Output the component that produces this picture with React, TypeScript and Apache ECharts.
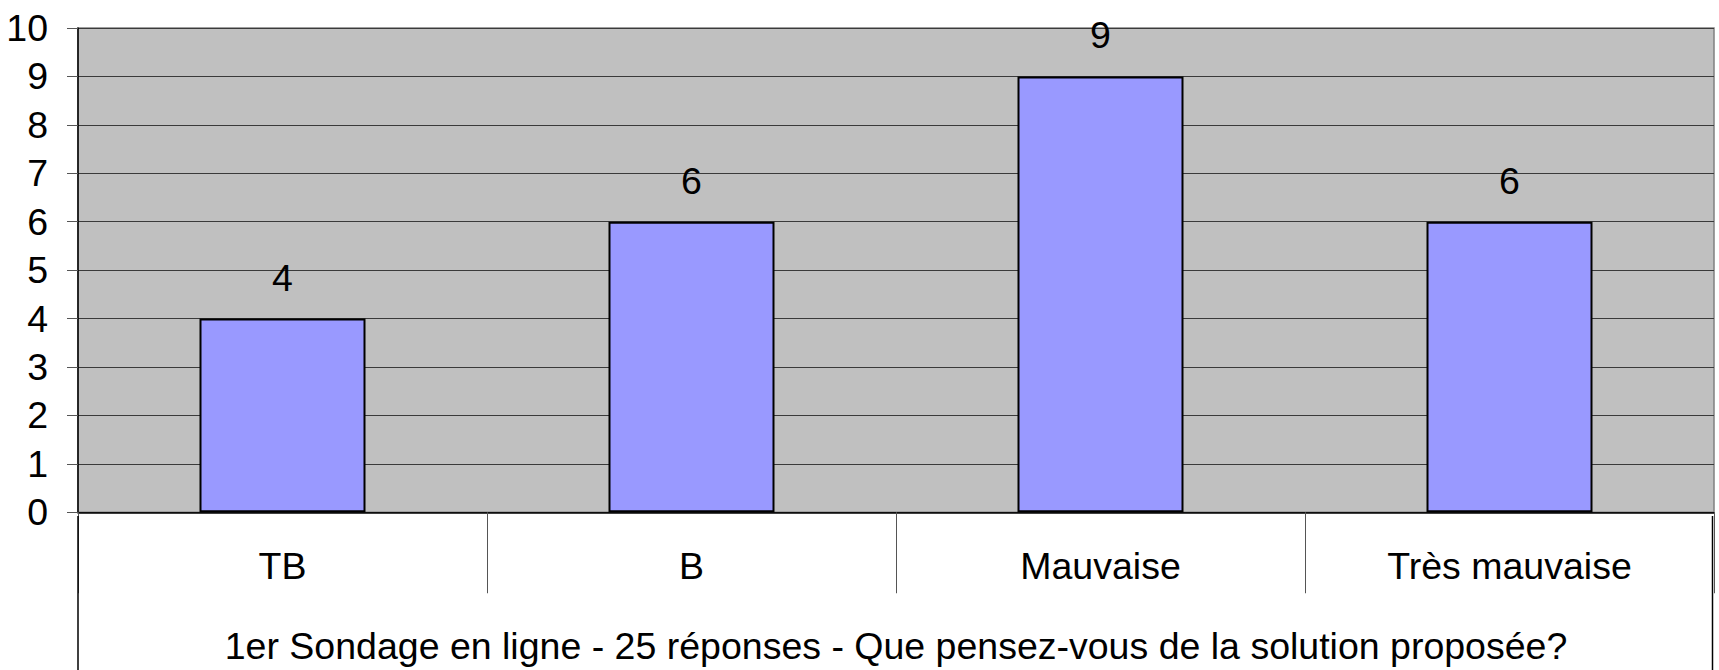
import React, { useEffect, useRef } from "react";
import * as echarts from "echarts";

const categories = ["TB", "B", "Mauvaise", "Très mauvaise"];
const values = [4, 6, 9, 6];
const axisTitle = "1er Sondage en ligne - 25 réponses - Que pensez-vous de la solution proposée?";
const yMin = 0;
const yMax = 10;
const yInterval = 1;

const FONT = "'Liberation Sans', Arial, sans-serif";
const FS = 37.5;

export default function App() {
  const ref = useRef<HTMLDivElement>(null);
  useEffect(() => {
    if (!ref.current) return;
    const chart = echarts.init(ref.current, null, { renderer: "svg" });
    const gridLeft = 78;
    const gridTop = 28;
    const gridRight = 5;
    const gridBottom = 154;
    const W = 1719;
    const H = 670;
    chart.setOption({
      animation: false,
      textStyle: { fontFamily: FONT },
      grid: {
        left: gridLeft,
        top: gridTop,
        right: gridRight,
        bottom: gridBottom,
        show: true,
        backgroundColor: "#c0c0c0",
        borderColor: "#808080",
        borderWidth: 1.5,
      },
      xAxis: {
        type: "category",
        data: categories,
        boundaryGap: true,
        axisLine: { show: true, lineStyle: { color: "#000", width: 1.5 } },
        axisTick: { show: true, interval: 0, length: 81, lineStyle: { color: "#555", width: 1 } },
        axisLabel: {
          interval: 0,
          fontSize: FS,
          lineHeight: FS,
          color: "#000",
          fontFamily: FONT,
          margin: 35,
        },
        name: axisTitle,
        nameLocation: "middle",
        nameGap: 115,
        nameTextStyle: { fontSize: FS, lineHeight: FS, color: "#000", fontFamily: FONT },
      },
      yAxis: {
        type: "value",
        min: yMin,
        max: yMax,
        interval: yInterval,
        axisLine: { show: true, lineStyle: { color: "#000", width: 1.5 } },
        axisTick: { show: true, inside: false, length: 11, lineStyle: { color: "#555", width: 1 } },
        axisLabel: { fontSize: FS, color: "#000", fontFamily: FONT, margin: 30 },
        splitLine: { show: true, lineStyle: { color: "#3a3a3a", width: 1 } },
      },
      series: [
        {
          type: "bar",
          data: values,
          barWidth: 166,
          itemStyle: { color: "#9999ff", borderColor: "#000", borderWidth: 2 },
          label: {
            show: true,
            position: "top",
            distance: 22,
            fontSize: FS,
            color: "#000",
            fontFamily: FONT,
          },
        },
      ],
      graphic: [
        {
          type: "line",
          shape: { x1: gridLeft, y1: H - gridBottom, x2: gridLeft, y2: H },
          style: { stroke: "#000", lineWidth: 1.5 },
          z: 10,
        },
        {
          type: "line",
          shape: { x1: W - gridRight - 1.5, y1: H - gridBottom, x2: W - gridRight - 1.5, y2: H },
          style: { stroke: "#000", lineWidth: 1.5 },
          z: 10,
        },
      ],
    });
    return () => chart.dispose();
  }, []);
  return (
    <div
      ref={ref}
      style={{ position: "fixed", left: 0, top: 0, width: 1719, height: 670, background: "#fff" }}
    />
  );
}
